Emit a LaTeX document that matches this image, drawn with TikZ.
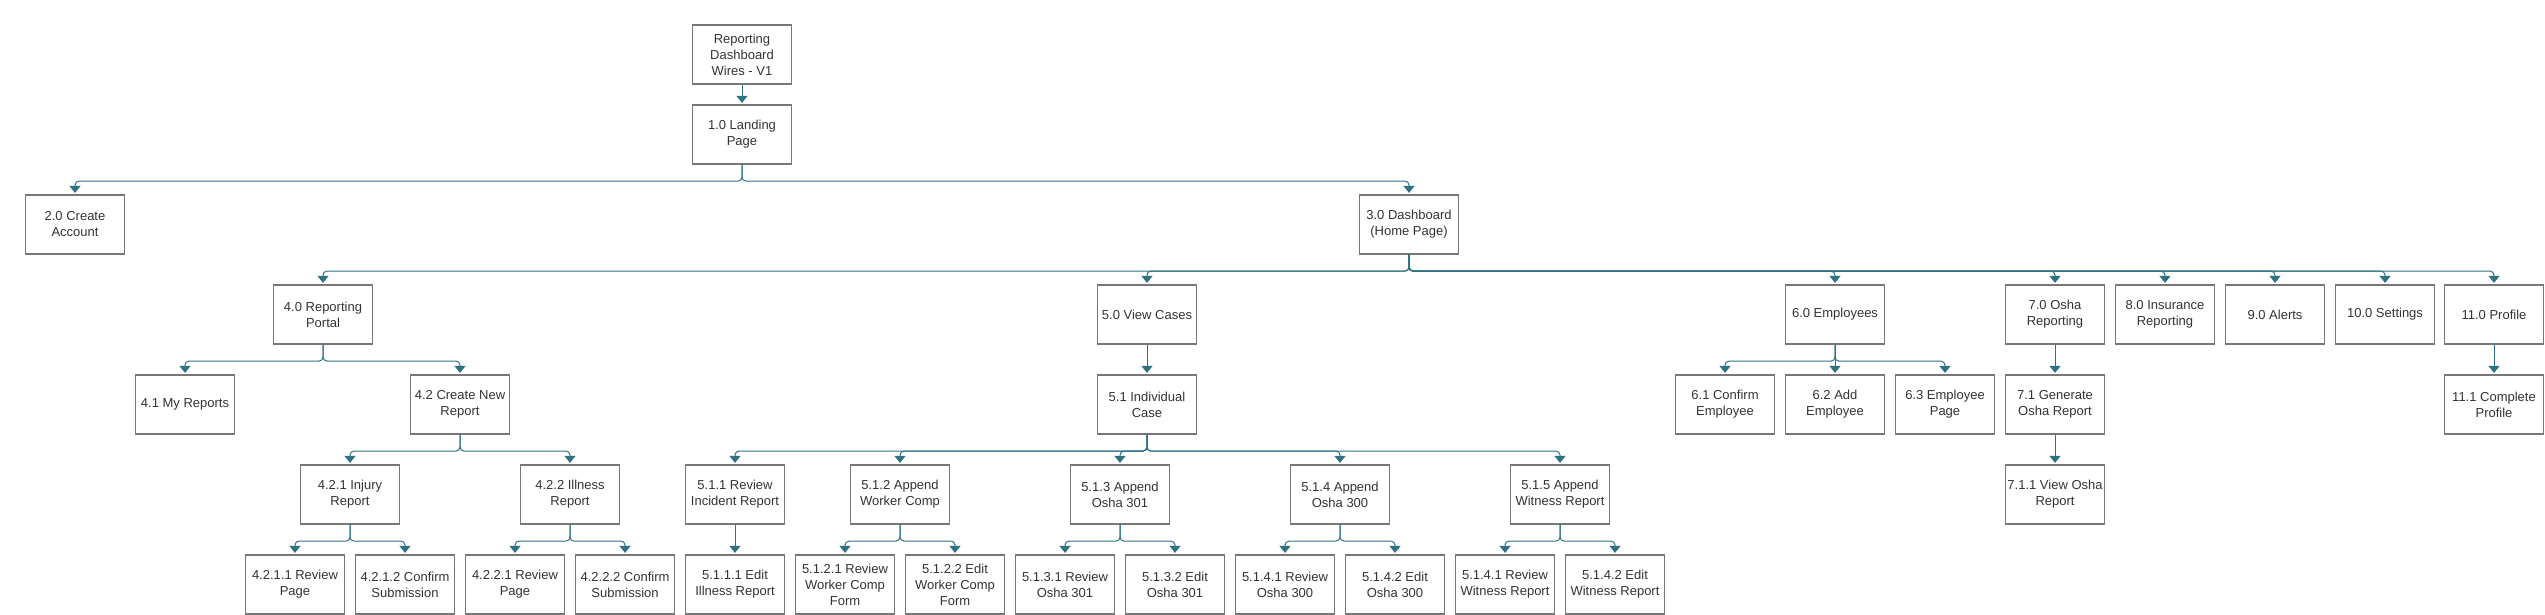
\documentclass[tikz,border=0pt]{standalone}
\usepackage{fontspec}
\setmainfont{Liberation Sans}
\usepackage{tikz}
\usetikzlibrary{arrows.meta}

\definecolor{boxgray}{HTML}{777777}
\definecolor{linkteal}{HTML}{2E7182}
\definecolor{textgray}{HTML}{333333}

\begin{document}
\begin{tikzpicture}
    [ x=1pt,
        y=-1pt,
        page/.style={ rectangle,
            draw=boxgray,
            line width=1.2pt,
            fill=white,
            minimum width=99pt,
            minimum height=59pt,
            inner sep=0pt,
            align=center,
            text=textgray,
            font=\fontsize{13}{16}\selectfont,
        },
        link/.style={ draw=linkteal,
            line width=1pt,
            rounded corners=4pt,
            -{Triangle[width=11pt,length=7pt]},
            shorten >=1.5pt,
        },
    ]

    \useasboundingbox (0,0) rectangle (2545,615);

    % top of the tree
    \node [page] (N0) at (742,54.5) {Reporting\\Dashboard\\Wires - V1};
    \node [page] (N1) at (742,134.5) {1.0 Landing\\Page};

    \node [page] (N2) at (75,224.5) {2.0 Create\\Account};
    \node [page] (N3) at (1409,224.5) {3.0 Dashboard\\(Home Page)};

    % sections under the dashboard
    \node [page] (N4) at (323,314.5) {4.0 Reporting\\Portal};
    \node [page] (N5) at (1147,314.5) {5.0 View Cases};
    \node [page] (N6) at (1835,314.5) {6.0 Employees};
    \node [page] (N7) at (2055,314.5) {7.0 Osha\\Reporting};
    \node [page] (N8) at (2165,314.5) {8.0 Insurance\\Reporting};
    \node [page] (N9) at (2275,314.5) {9.0 Alerts};
    \node [page] (N10) at (2385,314.5) {10.0 Settings};
    \node [page] (N11) at (2494,314.5) {11.0 Profile};

    \node [page] (N41) at (185,404.5) {4.1 My Reports};
    \node [page] (N42) at (460,404.5) {4.2 Create New\\Report};
    \node [page] (N51) at (1147,404.5) {5.1 Individual\\Case};
    \node [page] (N61) at (1725,404.5) {6.1 Confirm\\Employee};
    \node [page] (N62) at (1835,404.5) {6.2 Add\\Employee};
    \node [page] (N63) at (1945,404.5) {6.3 Employee\\Page};
    \node [page] (N71) at (2055,404.5) {7.1 Generate\\Osha Report};
    \node [page] (N111) at (2494,404.5) {11.1 Complete\\Profile};

    \node [page] (N421) at (350,494.5) {4.2.1 Injury\\Report};
    \node [page] (N422) at (570,494.5) {4.2.2 Illness\\Report};
    \node [page] (N511) at (735,494.5) {5.1.1 Review\\Incident Report};
    \node [page] (N512) at (900,494.5) {5.1.2 Append\\Worker Comp};
    \node [page] (N513) at (1120,494.5) {5.1.3 Append\\Osha 301};
    \node [page] (N514) at (1340,494.5) {5.1.4 Append\\Osha 300};
    \node [page] (N515) at (1560,494.5) {5.1.5 Append\\Witness Report};
    \node [page] (N711) at (2055,494.5) {7.1.1 View Osha\\Report};

    % bottom row
    \node [page] (N4211) at (295,584.5) {4.2.1.1 Review\\Page};
    \node [page] (N4212) at (405,584.5) {4.2.1.2 Confirm\\Submission};
    \node [page] (N4221) at (515,584.5) {4.2.2.1 Review\\Page};
    \node [page] (N4222) at (625,584.5) {4.2.2.2 Confirm\\Submission};
    \node [page] (N5111) at (735,584.5) {5.1.1.1 Edit\\Illness Report};
    \node [page] (N5121) at (845,584.5) {5.1.2.1 Review\\Worker Comp\\Form};
    \node [page] (N5122) at (955,584.5) {5.1.2.2 Edit\\Worker Comp\\Form};
    \node [page] (N5131) at (1065,584.5) {5.1.3.1 Review\\Osha 301};
    \node [page] (N5132) at (1175,584.5) {5.1.3.2 Edit\\Osha 301};
    \node [page] (N5141) at (1285,584.5) {5.1.4.1 Review\\Osha 300};
    \node [page] (N5142) at (1395,584.5) {5.1.4.2 Edit\\Osha 300};
    \node [page] (N5151) at (1505,584.5) {5.1.4.1 Review\\Witness Report};
    \node [page] (N5152) at (1615,584.5) {5.1.4.2 Edit\\Witness Report};

    % straight links
    \draw [link] (N0.south) -- (N1.north);
    \draw [link] (N5.south) -- (N51.north);
    \draw [link] (N511.south) -- (N5111.north);
    \draw [link] (N7.south) -- (N71.north);
    \draw [link] (N71.south) -- (N711.north);
    \draw [link] (N11.south) -- (N111.north);

    % branching links
    \foreach \C in {N2,N3}
        \draw [link] (N1.south) -- ++(0,16.5) -| (\C.north);
    \foreach \C in {N4,N5,N6,N7,N8,N9,N10,N11}
        \draw [link] (N3.south) -- ++(0,16.5) -| (\C.north);
    \foreach \C in {N41,N42}
        \draw [link] (N4.south) -- ++(0,16.5) -| (\C.north);
    \foreach \C in {N61,N62,N63}
        \draw [link] (N6.south) -- ++(0,16.5) -| (\C.north);
    \foreach \C in {N421,N422}
        \draw [link] (N42.south) -- ++(0,16.5) -| (\C.north);
    \foreach \C in {N511,N512,N513,N514,N515}
        \draw [link] (N51.south) -- ++(0,16.5) -| (\C.north);
    \foreach \C in {N4211,N4212}
        \draw [link] (N421.south) -- ++(0,16.5) -| (\C.north);
    \foreach \C in {N4221,N4222}
        \draw [link] (N422.south) -- ++(0,16.5) -| (\C.north);
    \foreach \C in {N5121,N5122}
        \draw [link] (N512.south) -- ++(0,16.5) -| (\C.north);
    \foreach \C in {N5131,N5132}
        \draw [link] (N513.south) -- ++(0,16.5) -| (\C.north);
    \foreach \C in {N5141,N5142}
        \draw [link] (N514.south) -- ++(0,16.5) -| (\C.north);
    \foreach \C in {N5151,N5152}
        \draw [link] (N515.south) -- ++(0,16.5) -| (\C.north);

\end{tikzpicture}
\end{document}
